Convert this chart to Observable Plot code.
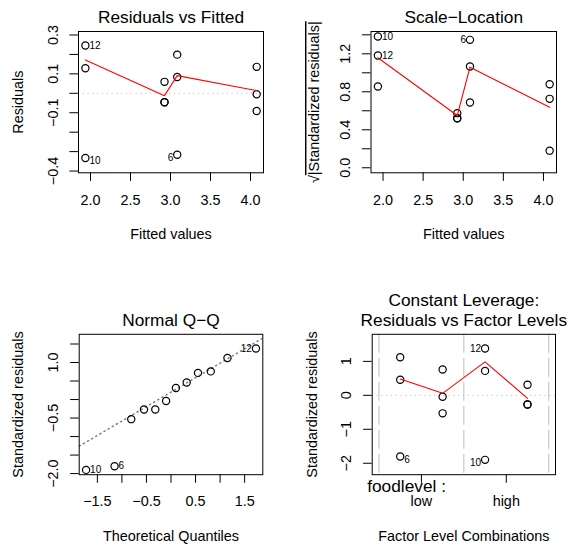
<!DOCTYPE html>
<html><head><meta charset="utf-8">
<script src="https://cdn.jsdelivr.net/npm/d3@7"></script>
<script src="https://cdn.jsdelivr.net/npm/@observablehq/plot@0.6"></script>
<style>
html,body{margin:0;padding:0;background:#fff;}
#wrap{position:relative;width:573px;height:550px;overflow:hidden;}
#wrap svg{position:absolute;}
</style></head><body><div id="wrap"></div>
<script>
// ---------------- data ----------------
// one entry per observation, grouped by factor-level combination (cell)
const obsCell     = [1, 1, 1, 2, 2, 2, 3, 3, 3, 4, 4, 4];
const obsId       = ["", "", "6", "", "", "", "12", "", "10", "", "", ""];
const fitted      = [3.084, 3.084, 3.084, 4.077, 4.077, 4.077, 1.936, 1.936, 1.936, 2.925, 2.925, 2.925];
const residuals   = [0.199, 0.084, -0.316, 0.136, -0.005, -0.091, 0.246, 0.129, -0.333, 0.059, -0.046, -0.046];
const stdResid    = [1.12, 0.46, -1.80, 0.76, -0.04, -0.53, 1.38, 0.72, -1.90, 0.31, -0.27, -0.27];
const sqrtAbsStd  = [1.066, 0.687, 1.347, 0.880, 0.180, 0.726, 1.182, 0.856, 1.382, 0.575, 0.522, 0.522];

// Normal Q-Q
const qqTheoretical = [-1.73, -1.15, -0.81, -0.55, -0.32, -0.10, 0.10, 0.32, 0.55, 0.81, 1.15, 1.73];
const qqSample      = [-1.90, -1.80, -0.53, -0.27, -0.27, -0.04, 0.31, 0.46, 0.72, 0.76, 1.12, 1.38];
const qqId          = ["10", "6", "", "", "", "", "", "", "", "", "", "12"];
const qqLineX = [-1.87, 1.87];
const qqLineY = [-1.26, 1.66];

// red smoothers
const smoothFitX   = [1.936, 2.925, 3.084, 4.077];
const smoothResid  = [0.172, -0.012, 0.091, 0.014];
const smoothScale  = [1.158, 0.550, 1.059, 0.638];
const smoothCellX  = [1, 2, 3, 4];
const smoothLevel  = [0.478, 0.059, 0.985, -0.088];

// factor
const factorName   = "foodlevel :";
const factorLevels = ["low", "high"];
const levelCenters = [1.5, 3.5];
const levelBounds  = [0.5, 2.5, 4.5];

// titles
const titles = ["Residuals vs Fitted", "Scale\u2212Location", "Normal Q\u2212Q", "Constant Leverage:\nResiduals vs Factor Levels"];
const xTitles = ["Fitted values", "Fitted values", "Theoretical Quantiles", "Factor Level Combinations"];
const yTitles = ["Residuals", "\u221A|Standardized residuals|", "Standardized residuals", "Standardized residuals"];

// ticks
const fitTicks      = [2.0, 2.5, 3.0, 3.5, 4.0];
const fitTickLabels = ["2.0", "2.5", "3.0", "3.5", "4.0"];
const p1YTicks      = [-0.4, -0.3, -0.2, -0.1, 0, 0.1, 0.2, 0.3];
const p1YLabTicks   = [-0.4, -0.1, 0.1, 0.3];
const p1YLabels     = ["\u22120.4", "\u22120.1", "0.1", "0.3"];
const p2YTicks      = [0, 0.2, 0.4, 0.6, 0.8, 1.0, 1.2, 1.4];
const p2YLabTicks   = [0, 0.4, 0.8, 1.2];
const p2YLabels     = ["0.0", "0.4", "0.8", "1.2"];
const p3XTicks      = [-1.5, -1, -0.5, 0, 0.5, 1, 1.5];
const p3XLabTicks   = [-1.5, -0.5, 0.5, 1.5];
const p3XLabels     = ["\u22121.5", "\u22120.5", "0.5", "1.5"];
const p3YTicks      = [-2, -1.5, -1, -0.5, 0, 0.5, 1, 1.5];
const p3YLabTicks   = [-2, -0.5, 1];
const p3YLabels     = ["\u22122.0", "\u22120.5", "1.0"];
const p4YTicks      = [-2, -1, 0, 1];
const p4YLabels     = ["\u22122", "\u22121", "0", "1"];

// ---------------- drawing ----------------
const FONT = "'Liberation Sans', Arial, Helvetica, sans-serif";
const AX = 14.4, TITLE = 17.3, ID = 10;
const wrap = document.getElementById("wrap");
const idx = n => d3.range(n);

function axisMarks(o) {
  const m = [];
  m.push(Plot.axisX(o.xTicks, {anchor: "bottom", tickSize: 8.6, tickFormat: () => "", label: null, stroke: "black"}));
  m.push(Plot.text(idx(o.xLabTicks.length), {x: i => o.xLabTicks[i], text: i => o.xLabels[i], frameAnchor: "bottom", textAnchor: "middle", dy: 31.7, lineAnchor: "bottom", fontSize: AX, fill: "black"}));
  m.push(Plot.axisY(o.yTicks, {anchor: "left", tickSize: 8.6, tickFormat: () => "", label: null, stroke: "black"}));
  m.push(Plot.text(idx(o.yLabTicks.length), {y: i => o.yLabTicks[i], text: i => o.yLabels[i], frameAnchor: "left", textAnchor: "middle", dx: -20.8, rotate: -90, lineAnchor: "bottom", fontSize: AX, fill: "black"}));
  m.push(Plot.text([o.title], {text: d => d, frameAnchor: "top", textAnchor: "middle", dy: -8.2, lineAnchor: "bottom", lineHeight: 1.16, fontSize: TITLE, fill: "black"}));
  m.push(Plot.text([o.xTitle], {text: d => d, frameAnchor: "bottom", textAnchor: "middle", dy: 66.5, lineAnchor: "bottom", fontSize: AX, fill: "black"}));
  m.push(Plot.text([o.yTitle], {text: d => d, frameAnchor: "left", textAnchor: "middle", dx: o.yTitleDx, rotate: -90, lineAnchor: "bottom", fontSize: AX, fill: "black"}));
  return m;
}

function idLabels(ids, xs, ys, xMid, shiftNeg) {
  const sel0 = idx(ids.length).filter(i => ids[i]);
  const m = [];
  for (const right of [true, false]) for (const neg of [true, false]) {
    const sel = sel0.filter(i => (xs[i] <= xMid) === right && (ys[i] < 0) === neg);
    if (!sel.length) continue;
    m.push(Plot.text(sel, {x: i => xs[i], y: i => ys[i], text: i => ids[i],
      textAnchor: right ? "start" : "end", dx: right ? 4 : -4, dy: (neg && shiftNeg) ? 3 : 0,
      lineAnchor: "middle", fontSize: ID, fill: "black"}));
  }
  return m;
}

function dots(xs, ys) {
  return Plot.dot(idx(xs.length), {x: i => xs[i], y: i => ys[i], r: 3.6, stroke: "black", fill: "none", strokeWidth: 1.2});
}

function panel(cfg, marks) {
  const svg = Plot.plot({
    width: 287, height: 275,
    marginLeft: cfg.L, marginRight: cfg.R, marginTop: cfg.T, marginBottom: cfg.B,
    x: {domain: cfg.xDomain, axis: null},
    y: {domain: cfg.yDomain, axis: null},
    style: {fontFamily: FONT, background: "transparent", color: "black", overflow: "visible"},
    marks: [...marks, Plot.frame({stroke: "black", strokeWidth: 1})]
  });
  svg.style.left = cfg.left + "px";
  svg.style.top = cfg.top + "px";
  wrap.appendChild(svg);
  return svg;
}

const fitDomain = [1.85, 4.1625];

// Panel 1: Residuals vs Fitted
panel({left: 0, top: 0, L: 78, R: 24, T: 31, B: 102.7, xDomain: fitDomain, yDomain: [-0.409, 0.318]}, [
  Plot.ruleY([0], {stroke: "#bebebe", strokeDasharray: "1.2,3.6"}),
  dots(fitted, residuals),
  Plot.line(idx(4), {x: i => smoothFitX[i], y: i => smoothResid[i], stroke: "red", strokeWidth: 1.1}),
  ...idLabels(obsId, fitted, residuals, d3.mean(fitDomain), true),
  ...axisMarks({xTicks: fitTicks, xLabTicks: fitTicks, xLabels: fitTickLabels, yTicks: p1YTicks, yLabTicks: p1YLabTicks, yLabels: p1YLabels,
    title: titles[0], xTitle: xTitles[0], yTitle: yTitles[0], yTitleDx: -55.7})
]);

// Panel 2: Scale-Location
const svg2 = panel({left: 286, top: 0, L: 84.5, R: 17, T: 31, B: 102.7, xDomain: fitDomain, yDomain: [-0.053, 1.435]}, [
  dots(fitted, sqrtAbsStd),
  Plot.line(idx(4), {x: i => smoothFitX[i], y: i => smoothScale[i], stroke: "red", strokeWidth: 1.1}),
  ...idLabels(obsId, fitted, sqrtAbsStd, d3.mean(fitDomain), false),
  ...axisMarks({xTicks: fitTicks, xLabTicks: fitTicks, xLabels: fitTickLabels, yTicks: p2YTicks, yLabTicks: p2YLabTicks, yLabels: p2YLabels,
    title: titles[1], xTitle: xTitles[1], yTitle: yTitles[1], yTitleDx: -52})
]);
// radical overbar: split the sqrt label into "√" + overlined rest
d3.select(svg2).selectAll("text").filter(function() { return this.textContent === yTitles[1]; }).each(function() {
  const t = d3.select(this);
  const txt = this.textContent;
  t.text(null);
  t.append("tspan").text(txt.slice(0, 1));
  t.append("tspan").style("text-decoration", "overline").text(txt.slice(1));
});

// Panel 3: Normal Q-Q
panel({left: 0, top: 275, L: 78.7, R: 24.7, T: 58.8, B: 75.8, xDomain: [-1.87, 1.87], yDomain: [-2.03, 1.762]}, [
  Plot.line(idx(2), {x: i => qqLineX[i], y: i => qqLineY[i], stroke: "#7f7f7f", strokeDasharray: "1.2,3.6", clip: true}),
  dots(qqTheoretical, qqSample),
  ...idLabels(qqId, qqTheoretical, qqSample, 0, false),
  ...axisMarks({xTicks: p3XTicks, xLabTicks: p3XLabTicks, xLabels: p3XLabels, yTicks: p3YTicks, yLabTicks: p3YLabTicks, yLabels: p3YLabels,
    title: titles[2], xTitle: xTitles[2], yTitle: yTitles[2], yTitleDx: -55.7})
]);

// Panel 4: Constant Leverage
panel({left: 286, top: 275, L: 85.7, R: 18, T: 58.8, B: 75.8, xDomain: [0.34, 4.66], yDomain: [-2.337, 1.797]}, [
  Plot.ruleX(levelBounds, {stroke: "#bebebe", strokeDasharray: "19,5"}),
  Plot.ruleY([0], {stroke: "#bebebe", strokeDasharray: "1.2,3.6"}),
  dots(obsCell, stdResid),
  Plot.line(idx(4), {x: i => smoothCellX[i], y: i => smoothLevel[i], stroke: "red", strokeWidth: 1.1}),
  ...idLabels(obsId, obsCell, stdResid, 2.5, true),
  Plot.text([factorName], {text: d => d, frameAnchor: "bottom-left", textAnchor: "start", dx: -5, dy: 17.2, lineAnchor: "bottom", fontSize: 17.3, fill: "black"}),
  ...axisMarks({xTicks: levelCenters, xLabTicks: levelCenters, xLabels: factorLevels, yTicks: p4YTicks, yLabTicks: p4YTicks, yLabels: p4YLabels,
    title: titles[3], xTitle: xTitles[3], yTitle: yTitles[3], yTitleDx: -55.7})
]);
</script>
</body></html>
